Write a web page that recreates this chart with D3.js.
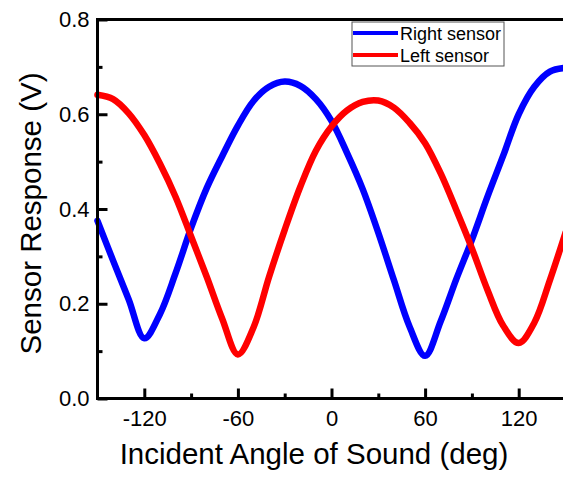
<!DOCTYPE html>
<html>
<head>
<meta charset="utf-8">
<script src="https://cdn.jsdelivr.net/npm/d3@7"></script>
<style>
  html, body { margin: 0; padding: 0; background: #fff; overflow: hidden; }
  svg { display: block; font-family: "Liberation Sans", Arial, sans-serif; }
</style>
</head>
<body>
<svg id="chart" width="563" height="478" viewBox="0 0 563 478"></svg>
<script>
// ---- data ----
const angles = [-150,-140,-130,-120,-110,-100,-90,-80,-70,-60,-50,-40,-30,-20,-10,0,10,20,30,40,50,60,70,80,90,100,110,120,130,140,150];
const rightSensor = [0.375,0.291,0.209,0.127,0.178,0.264,0.360,0.444,0.512,0.576,0.628,0.658,0.669,0.660,0.632,0.586,0.518,0.442,0.350,0.250,0.152,0.090,0.163,0.252,0.335,0.426,0.512,0.600,0.658,0.690,0.698];
const leftSensor  = [0.641,0.632,0.602,0.556,0.496,0.426,0.342,0.257,0.168,0.093,0.150,0.257,0.356,0.447,0.523,0.574,0.608,0.626,0.629,0.614,0.582,0.539,0.475,0.398,0.317,0.229,0.154,0.117,0.160,0.250,0.350];
const xTicks = [-120,-60,0,60,120];
const xMinor = [-90,-30,30,90];
const yTicks = [0.0,0.2,0.4,0.6,0.8];
const yMinor = [0.1,0.3,0.5,0.7];
const seriesNames = ["Right sensor","Left sensor"];
const seriesColors = ["#0000ff","#ff0000"];
const xTitle = "Incident Angle of Sound (deg)";
const yTitle = "Sensor Response (V)";

// ---- layout ----
const svg = d3.select("#chart");
const L = 97.5, R = 565.5, T = 19.5, B = 398.5;
const x = d3.scaleLinear().domain([-150,150]).range([L,R]);
const y = d3.scaleLinear().domain([0,0.8]).range([B,T]);

// curves
const line = d3.line().curve(d3.curveCatmullRom.alpha(0.5))
  .x((d,i)=>x(angles[i])).y(d=>y(d));
[rightSensor, leftSensor].forEach((s,k)=>{
  svg.append("path").datum(s)
    .attr("d", line)
    .attr("fill","none")
    .attr("stroke", seriesColors[k])
    .attr("stroke-width", 6.5)
    .attr("stroke-linejoin","round")
    .attr("stroke-linecap","round");
});

// frame: filled bands (axis lines)
svg.append("rect").attr("x",96).attr("y",18).attr("width",470).attr("height",3).attr("fill","#000");
svg.append("rect").attr("x",96).attr("y",397).attr("width",470).attr("height",3).attr("fill","#000");
svg.append("rect").attr("x",96).attr("y",18).attr("width",3).attr("height",382).attr("fill","#000");

// axes (ticks + labels)
function styleAxis(g){
  g.select(".domain").remove();
  g.selectAll(".tick line").attr("stroke","#000").attr("stroke-width",3);
  g.selectAll(".tick text").attr("fill","#000")
    .style("font-family",'"Liberation Sans", Arial, sans-serif').style("font-size","22px");
}
svg.append("g").attr("transform",`translate(0,${B})`)
  .call(d3.axisBottom(x).tickValues(xTicks).tickSizeInner(-10).tickSizeOuter(0).tickPadding(12).tickFormat(d => d < 0 ? "-" + Math.abs(d) : String(d)))
  .call(styleAxis);
svg.append("g").attr("transform",`translate(0,${B})`)
  .call(d3.axisBottom(x).tickValues(xMinor).tickSizeInner(-5).tickSizeOuter(0).tickFormat(""))
  .call(styleAxis);
svg.append("g").attr("transform",`translate(${L},0)`)
  .call(d3.axisLeft(y).tickValues(yTicks).tickSizeInner(-10).tickSizeOuter(0).tickPadding(8).tickFormat(d3.format(".1f")))
  .call(styleAxis);
svg.append("g").attr("transform",`translate(${L},0)`)
  .call(d3.axisLeft(y).tickValues(yMinor).tickSizeInner(-5).tickSizeOuter(0).tickFormat(""))
  .call(styleAxis);

// titles
svg.append("text").attr("x",314).attr("y",464).attr("text-anchor","middle")
  .style("font-size","29.5px").attr("fill","#000").text(xTitle);
svg.append("text").attr("transform","translate(41,213.5) rotate(-90)").attr("text-anchor","middle")
  .style("font-size","29.5px").attr("fill","#000").text(yTitle);

// legend
const lg = svg.append("g");
lg.append("rect").attr("x",352).attr("y",22).attr("width",152).attr("height",44)
  .attr("fill","#fff").attr("stroke","#555").attr("stroke-width",1);
seriesNames.forEach((n,k)=>{
  const yy = 33 + k*22;
  lg.append("line").attr("x1",353).attr("x2",398).attr("y1",yy).attr("y2",yy)
    .attr("stroke",seriesColors[k]).attr("stroke-width",4);
  lg.append("text").attr("x",400).attr("y",yy+6.5).style("font-size","18px").attr("fill","#000").text(n);
});
</script>
</body>
</html>
